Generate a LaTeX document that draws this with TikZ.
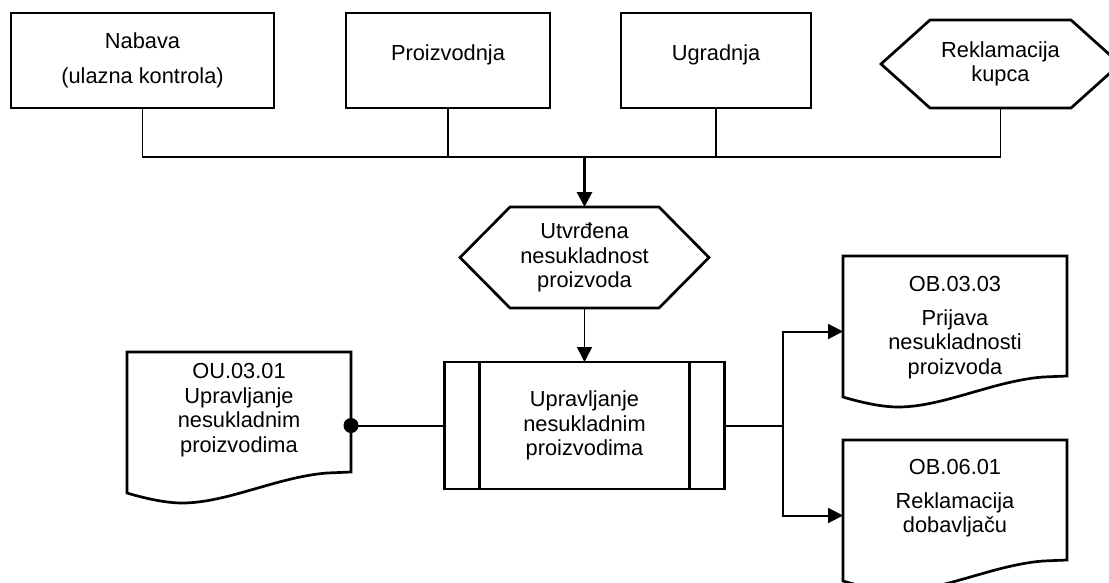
\documentclass[tikz,border=0pt]{standalone}
\usepackage{fontspec}
\setmainfont{Liberation Sans}
\usetikzlibrary{arrows.meta,calc}
\newcommand{\dtxt}{\fontsize{21.8pt}{24.5pt}\selectfont}
\newcommand{\myhex}[2]{\draw[border] (#1.west) -- ([xshift=#2]#1.north west) -- ([xshift=-#2]#1.north east) -- (#1.east) -- ([xshift=-#2]#1.south east) -- ([xshift=#2]#1.south west) -- cycle;}
\newcommand{\mydoc}[1]{\draw[border] (#1.north west) -- (#1.north east) -- ([yshift=31pt]#1.south east) -- ([xshift=-24pt,yshift=30pt]#1.south east) .. controls +(-50pt,-4pt) and +(45pt,0pt) .. ([xshift=55pt]#1.south west) .. controls +(-15pt,0pt) and +(20pt,-6pt) .. ([yshift=10pt]#1.south west) -- cycle;}
\begin{document}
\begin{tikzpicture}[x=1pt,y=-1pt,
  border/.style={line width=2.7pt, line join=miter},
  frame/.style={inner sep=0pt, outer sep=0pt, align=center, font=\dtxt},
  boxnode/.style={frame, draw, border},
  txt/.style={inner sep=0pt, align=center, font=\dtxt},
  thinline/.style={line width=1.5pt},
  medline/.style={line width=2pt},
  thickline/.style={line width=2.8pt},
  tip/.style={-{Triangle[length=15pt,width=15pt]}},
]
\useasboundingbox[fill=white] (0,0) rectangle (1109,582);

% top row
\node[boxnode, minimum width=263pt, minimum height=95pt] (nab) at (142.5,60.5) {Nabava\\[11pt](ulazna kontrola)};
\node[boxnode, minimum width=204pt, minimum height=95pt, text height=15pt, text depth=16pt] (pro) at (448,60.5) {Proizvodnja};
\node[boxnode, minimum width=190pt, minimum height=95pt, text height=15pt, text depth=16pt] (ugr) at (716,60.5) {Ugradnja};
\node[frame, minimum width=239pt, minimum height=88pt] (rek) at (1000.5,64) {Reklamacija\\kupca};
\myhex{rek}{49pt}

% middle
\node[frame, minimum width=249pt, minimum height=101pt] (utv) at (584.5,257.5) {Utvrđena\\nesukladnost\\proizvoda};
\myhex{utv}{50pt}

\node[boxnode, minimum width=280pt, minimum height=127pt] (proc) at (584.5,425.5) {Upravljanje\\nesukladnim\\proizvodima};
\draw[border] ([xshift=35pt]proc.north west) -- ([xshift=35pt]proc.south west);
\draw[border] ([xshift=-35pt]proc.north east) -- ([xshift=-35pt]proc.south east);

% documents
\node[frame, minimum width=224pt, minimum height=151pt] (ou) at (239,427.5) {};
\mydoc{ou}
\node[txt] (out) at (239,410) {OU.03.01\\Upravljanje\\nesukladnim\\proizvodima};

\node[frame, minimum width=224pt, minimum height=151pt] (ob1) at (955,331.5) {};
\mydoc{ob1}
\node[txt] (ob1t) at (955,327.5) {OB.03.03\\[9pt]Prijava\\nesukladnosti\\proizvoda};

\node[frame, minimum width=224pt, minimum height=151pt] (ob2) at (955,515.5) {};
\mydoc{ob2}
\node[txt] (ob2t) at (955,498.5) {OB.06.01\\[9pt]Reklamacija\\dobavljaču};

% connectors
\coordinate (bus) at (0,157);
\draw[thinline] (nab.south) -- (nab.south |- bus) -- (rek.south |- bus) -- (rek.south);
\draw[thinline] (pro.south) -- (pro.south |- bus);
\draw[thinline] (ugr.south) -- (ugr.south |- bus);
\draw[thickline, tip] (utv.north |- bus) -- (utv.north);
\draw[thinline, tip] (utv.south) -- (proc.north);

\draw[medline] (proc.west) -- (proc.west -| ou.east);
\fill (proc.west -| ou.east) circle (7.5pt);

\coordinate (split) at (783,425.5);
\draw[medline] (proc.east) -- (split);
\draw[medline, tip] (split) |- (ob1.west);
\draw[medline, tip] (split) |- (ob2.west);
\end{tikzpicture}
\end{document}
